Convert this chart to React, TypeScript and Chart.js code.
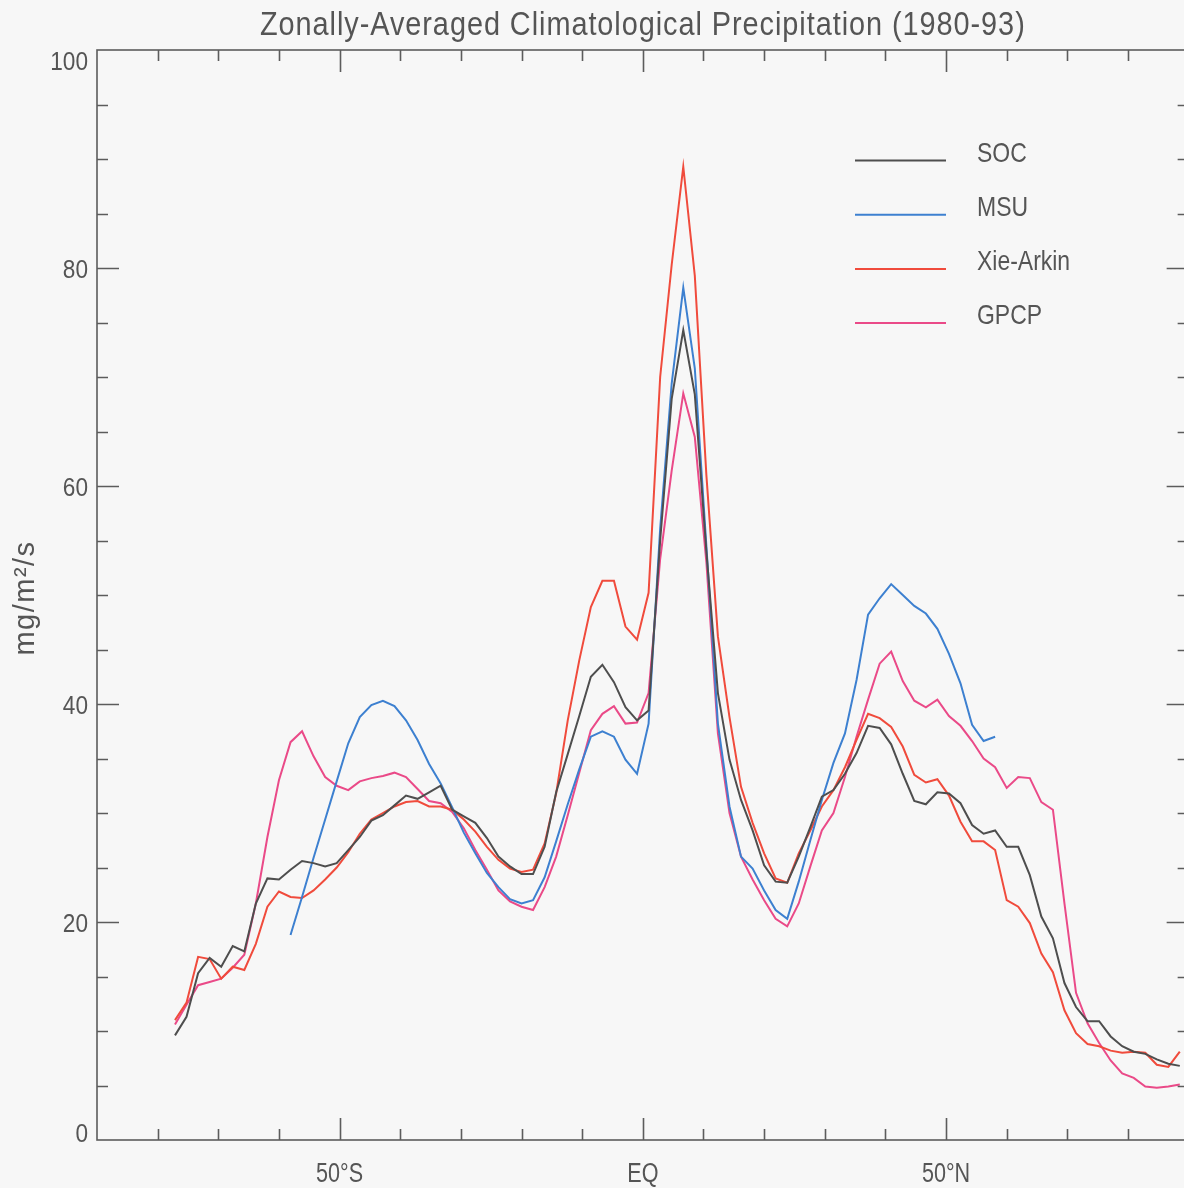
import { useEffect, useRef } from 'react';
import { Chart, registerables } from 'chart.js';

Chart.register(...registerables);

// Latitudes of the zonal-mean grid (degrees, south negative)
const LATS = [
  -77.14, -75.24, -73.33, -71.43, -69.52, -67.62, -65.71, -63.81, -61.9, -60.0,
  -58.09, -56.19, -54.29, -52.38, -50.48, -48.57, -46.67, -44.76, -42.86, -40.95,
  -39.05, -37.14, -35.24, -33.33, -31.43, -29.52, -27.62, -25.71, -23.81, -21.9,
  -20.0, -18.1, -16.19, -14.29, -12.38, -10.48, -8.57, -6.67, -4.76, -2.86,
  -0.95, 0.95, 2.86, 4.76, 6.67, 8.57, 10.48, 12.38, 14.29, 16.19,
  18.1, 20.0, 21.9, 23.81, 25.71, 27.62, 29.52, 31.43, 33.33, 35.24,
  37.14, 39.05, 40.95, 42.86, 44.76, 46.67, 48.57, 50.48, 52.38, 54.29,
  56.19, 58.09, 60.0, 61.9, 63.81, 65.71, 67.62, 69.52, 71.43, 73.33,
  75.24, 77.14, 79.04, 80.95, 82.85, 84.75, 86.65, 88.54,
];

const SOC = [
  9.6, 11.3, 15.3, 16.7, 15.9, 17.8, 17.3, 21.7, 24.0, 23.9,
  24.8, 25.6, 25.4, 25.1, 25.4, 26.6, 27.8, 29.3, 29.8, 30.7,
  31.6, 31.3, 31.9, 32.5, 30.3, 29.7, 29.1, 27.7, 26.0, 25.1,
  24.4, 24.4, 26.9, 31.9, 35.4, 38.9, 42.5, 43.6, 42.0, 39.7,
  38.5, 39.4, 55.0, 68.0, 74.3, 68.4, 54.0, 41.0, 34.9, 31.2,
  28.4, 25.2, 23.7, 23.6, 26.0, 28.7, 31.5, 32.1, 33.6, 35.5,
  38.0, 37.8, 36.3, 33.6, 31.1, 30.8, 31.9, 31.8, 30.9, 28.9,
  28.1, 28.4, 26.9, 26.9, 24.3, 20.5, 18.5, 14.4, 12.2, 10.9,
  10.9, 9.5, 8.6, 8.1, 7.9, 7.4, 7.0, 6.8,
];

const MSU = [
  null, null, null, null, null, null, null, null, null, null,
  18.8, 22.3, 25.9, 29.4, 32.9, 36.4, 38.8, 39.9, 40.3, 39.8,
  38.5, 36.7, 34.5, 32.7, 30.5, 28.2, 26.3, 24.5, 23.2, 22.1,
  21.7, 22.0, 24.1, 27.4, 30.8, 34.0, 37.0, 37.5, 37.0, 34.9,
  33.6, 38.2, 56.1, 69.4, 78.2, 70.8, 54.5, 38.2, 30.6, 26.0,
  24.9, 22.9, 21.1, 20.3, 23.7, 27.5, 31.2, 34.6, 37.3, 42.2,
  48.2, 49.7, 51.0, 50.0, 49.0, 48.3, 46.9, 44.6, 41.9, 38.1,
  36.6, 37.0, null, null, null, null, null, null, null, null,
  null, null, null, null, null, null, null, null,
];

const XIE_ARKIN = [
  11.0, 12.6, 16.8, 16.6, 14.8, 15.9, 15.6, 18.0, 21.4, 22.8,
  22.3, 22.2, 22.9, 23.9, 25.0, 26.4, 28.1, 29.4, 30.0, 30.6,
  31.0, 31.1, 30.6, 30.6, 30.3, 29.4, 28.3, 26.9, 25.7, 24.9,
  24.6, 24.8, 27.2, 31.8, 38.5, 44.0, 48.9, 51.3, 51.3, 47.1,
  45.9, 50.2, 70.0, 80.3, 89.3, 79.3, 61.0, 46.2, 38.8, 32.4,
  29.1, 26.3, 24.0, 23.6, 26.3, 28.4, 30.6, 32.1, 34.2, 36.7,
  39.1, 38.7, 37.9, 36.1, 33.5, 32.8, 33.1, 31.6, 29.2, 27.4,
  27.4, 26.6, 22.0, 21.4, 19.9, 17.1, 15.4, 11.9, 9.8, 8.8,
  8.6, 8.2, 8.0, 8.1, 8.0, 6.9, 6.7, 8.1,
];

const GPCP = [
  10.6, 12.4, 14.2, 14.5, 14.8, 15.8, 17.0, 21.7, 27.8, 33.0,
  36.5, 37.5, 35.2, 33.3, 32.5, 32.1, 32.9, 33.2, 33.4, 33.7,
  33.3, 32.2, 31.1, 30.9, 30.1, 28.6, 26.6, 24.8, 22.9, 21.9,
  21.4, 21.1, 23.2, 26.0, 29.8, 33.7, 37.6, 39.1, 39.8, 38.2,
  38.3, 41.0, 53.3, 61.4, 68.5, 64.5, 53.0, 37.3, 30.0, 26.0,
  23.9, 22.0, 20.3, 19.6, 21.7, 25.1, 28.4, 30.0, 33.3, 37.0,
  40.4, 43.7, 44.8, 42.1, 40.3, 39.7, 40.4, 38.9, 38.0, 36.6,
  35.0, 34.2, 32.3, 33.3, 33.2, 31.0, 30.3, 21.7, 13.5, 10.7,
  8.9, 7.3, 6.1, 5.7, 4.9, 4.8, 4.9, 5.1,
];

const SERIES_NAMES = ['SOC', 'MSU', 'Xie-Arkin', 'GPCP'];
const X_TICK_VALUES = [-50, 0, 50];
const X_TICK_LABELS = ['50°S', 'EQ', '50°N'];
const Y_TICK_VALUES = [0, 20, 40, 60, 80, 100];
const TITLE = 'Zonally-Averaged Climatological Precipitation (1980-93)';
const Y_TITLE = 'mg/m²/s';

const COLORS = ['#4e4e4e', '#3d80d0', '#f04b3c', '#ea4a88'];
const FONT = '"Liberation Sans", Arial, sans-serif';
const TEXT_COLOR = '#555555';
const AXIS_COLOR = '#5c5c5c';
const BG = '#f7f7f7';

const CANVAS_W = 1196;
const CANVAS_H = 1188;

function drawText(
  ctx: CanvasRenderingContext2D,
  text: string,
  x: number,
  y: number,
  size: number,
  sx: number,
  align: CanvasTextAlign,
  spacing = 0,
) {
  ctx.save();
  ctx.translate(x, y);
  ctx.scale(sx, 1);
  ctx.font = `${size}px ${FONT}`;
  (ctx as any).letterSpacing = `${spacing}px`;
  ctx.textAlign = align;
  ctx.textBaseline = 'alphabetic';
  ctx.fillText(text, 0, 0);
  ctx.restore();
}

const decorPlugin = {
  id: 'decor',
  afterDraw(chart: any) {
    const { ctx, chartArea: a, scales } = chart;
    const xs = scales.x;
    const ys = scales.y;
    ctx.save();
    // frame
    ctx.strokeStyle = AXIS_COLOR;
    ctx.lineWidth = 1.6;
    ctx.strokeRect(a.left, a.top, a.right - a.left, a.bottom - a.top);
    // x ticks (inward, top and bottom)
    for (let v = -80; v <= 80; v += 10) {
      const px = Math.round(xs.getPixelForValue(v)) + 0.5;
      const len = v % 50 === 0 ? 22 : 11;
      ctx.beginPath();
      ctx.moveTo(px, a.bottom);
      ctx.lineTo(px, a.bottom - len);
      ctx.moveTo(px, a.top);
      ctx.lineTo(px, a.top + len);
      ctx.stroke();
    }
    // y ticks (inward, left and right)
    for (let v = 5; v < 100; v += 5) {
      const py = Math.round(ys.getPixelForValue(v)) + 0.5;
      const len = v % 20 === 0 ? 22 : 11;
      ctx.beginPath();
      ctx.moveTo(a.left, py);
      ctx.lineTo(a.left + len, py);
      ctx.moveTo(a.right, py);
      ctx.lineTo(a.right - len, py);
      ctx.stroke();
    }
    ctx.fillStyle = TEXT_COLOR;
    // y tick labels
    for (const v of Y_TICK_VALUES) {
      const py = ys.getPixelForValue(v) + 9.5;
      const by = Math.min(Math.max(py, a.top + 20), a.bottom + 2);
      drawText(ctx, String(v), a.left - 9, by, 26, 0.87, 'right');
    }
    // x tick labels
    X_TICK_VALUES.forEach((v, i) => {
      drawText(ctx, X_TICK_LABELS[i], xs.getPixelForValue(v), a.bottom + 42, 27, 0.8, 'center');
    });
    // title
    drawText(ctx, TITLE, (a.left + a.right) / 2, 35, 34, 0.85, 'center', 1.1);
    // y axis title
    ctx.save();
    ctx.translate(34, 598);
    ctx.rotate(-Math.PI / 2);
    drawText(ctx, Y_TITLE, 0, 0, 29, 1, 'center', 1.5);
    ctx.restore();
    // legend
    chart.data.datasets.forEach((ds: any, i: number) => {
      const ly = 160.5 + i * 54.2;
      ctx.strokeStyle = ds.borderColor;
      ctx.lineWidth = 2;
      ctx.beginPath();
      ctx.moveTo(855, ly);
      ctx.lineTo(946, ly);
      ctx.stroke();
      ctx.fillStyle = TEXT_COLOR;
      drawText(ctx, ds.label, 977, ly + 1, 28, 0.82, 'left');
    });
    ctx.restore();
  },
};

export default function App() {
  const ref = useRef<HTMLCanvasElement | null>(null);
  useEffect(() => {
    if (!ref.current) return;
    const seriesValues = [SOC, MSU, XIE_ARKIN, GPCP];
    const datasets = seriesValues.map((vals, i) => ({
      label: SERIES_NAMES[i],
      data: LATS.map((lat, j) => ({ x: lat, y: vals[j] })),
      borderColor: COLORS[i],
      backgroundColor: COLORS[i],
      borderWidth: 2,
      pointRadius: 0,
      tension: 0,
      spanGaps: false,
      fill: false,
    }));
    const chart = new Chart(ref.current, {
      type: 'line',
      data: { datasets },
      options: {
        animation: false,
        responsive: false,
        devicePixelRatio: 1,
        layout: { padding: { top: 50, right: CANVAS_W - 1188.65, left: 0, bottom: 0 } },
        plugins: { legend: { display: false }, title: { display: false }, tooltip: { enabled: false } },
        scales: {
          x: {
            type: 'linear',
            min: -90,
            max: 90,
            grid: { display: false },
            border: { display: false },
            afterFit: (s: any) => { s.height = 48; },
            ticks: { stepSize: 10, display: false, padding: 0 },
          },
          y: {
            type: 'linear',
            min: 0,
            max: 100,
            grid: { display: false },
            border: { display: false },
            afterFit: (s: any) => { s.width = 97; },
            ticks: { stepSize: 20, display: false, padding: 0 },
          },
        },
      },
      plugins: [decorPlugin],
    } as any);
    return () => chart.destroy();
  }, []);
  return (
    <div style={{ position: 'fixed', left: 0, top: 0, width: 1184, height: 1188, overflow: 'hidden', background: BG }}>
      <canvas ref={ref} width={CANVAS_W} height={CANVAS_H} style={{ width: CANVAS_W, height: CANVAS_H, display: 'block' }} />
    </div>
  );
}
